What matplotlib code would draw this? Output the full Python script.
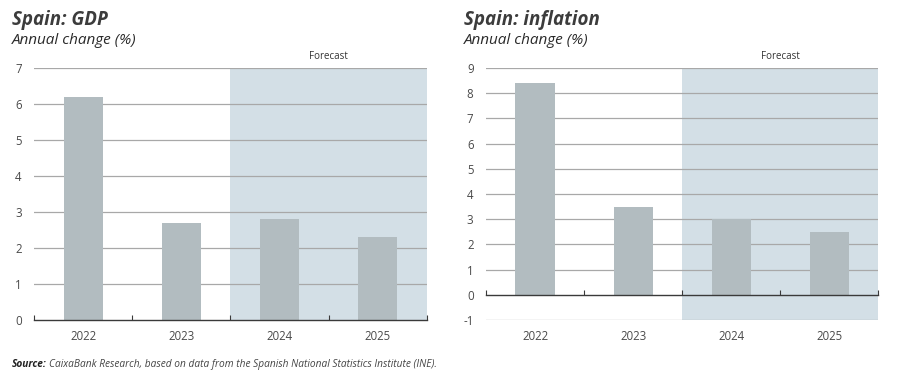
import matplotlib
matplotlib.use('Agg')
import matplotlib.pyplot as plt
import numpy as np

# --- Data ---
years = ['2022', '2023', '2024', '2025']
gdp = [6.2, 2.7, 2.8, 2.3]
inflation = [8.4, 3.5, 3.0, 2.5]
forecast_start = 1.5  # between 2023 and 2024

# --- Style ---
plt.rcParams['font.family'] = ['Open Sans', 'DejaVu Sans']
bar_color = '#b2bcc0'
shade_color = '#d3dfe6'
grid_color = '#a8a8a8'
axis_color = '#3a3a3a'
text_color = '#4a4a4a'

fig = plt.figure(figsize=(9, 3.86), dpi=100)


def draw_panel(rect, values, ylim, title, ticks):
    ax = fig.add_axes(rect)
    x = np.arange(len(years))
    ax.set_xlim(-0.5, len(years) - 0.5)
    ax.set_ylim(*ylim)

    # forecast shading
    ax.axvspan(forecast_start, len(years) - 0.5, color=shade_color, lw=0, zorder=1)
    ax.text((forecast_start + len(years) - 0.5) / 2, 1.025, 'Forecast',
            transform=ax.get_xaxis_transform(), ha='center', va='bottom',
            fontsize=7, color='#333333')

    # gridlines
    for t in ticks:
        if t != 0:
            ax.axhline(t, color=grid_color, lw=0.9, zorder=2)

    ax.bar(x, values, width=0.4, color=bar_color, zorder=3)

    # zero axis with ticks at category boundaries
    for s in ['top', 'right', 'left']:
        ax.spines[s].set_visible(False)
    ax.spines['bottom'].set_position(('data', 0))
    ax.spines['bottom'].set_color(axis_color)
    ax.spines['bottom'].set_linewidth(1.0)
    ax.spines['bottom'].set_zorder(4)
    ax.set_xticks(x)
    ax.set_xticklabels([])
    ax.set_xticks(np.arange(len(years) + 1) - 0.5, minor=True)
    ax.tick_params(axis='x', which='both', direction='in')
    ax.tick_params(axis='x', which='major', length=0)
    ax.tick_params(axis='x', which='minor', length=3.5,
                   width=0.8, color=axis_color)
    for i, yr in enumerate(years):
        ax.text(i, -0.04, yr, transform=ax.get_xaxis_transform(),
                ha='center', va='top', fontsize=8.3, color=text_color)

    ax.set_yticks(ticks)
    ax.set_yticklabels([str(t) for t in ticks])
    ax.tick_params(axis='y', length=0, pad=9, labelsize=8.3, labelcolor=text_color)

    fig.text(rect[0] - 0.025, 0.935, title, fontsize=13.5, fontweight='bold',
             style='italic', color='#3c3c3c', va='baseline')
    fig.text(rect[0] - 0.025, 0.885, 'Annual change (%)', fontsize=11,
             style='italic', color='#2a2a2a', va='baseline')
    return ax


draw_panel([0.038, 0.171, 0.436, 0.653], gdp, (0, 7),
           'Spain: GDP', list(range(0, 8)))
draw_panel([0.540, 0.171, 0.436, 0.653], inflation, (-1, 9),
           'Spain: inflation', list(range(-1, 10)))

# source line
src_bold = fig.text(0.013, 0.048, 'Source:', fontsize=7.3, fontweight='bold',
                    style='italic', color='#222222', va='baseline')
fig.canvas.draw()
bb = src_bold.get_window_extent()
x_next = (bb.x1 + 3) / fig.bbox.width
fig.text(x_next, 0.048,
         'CaixaBank Research, based on data from the Spanish National Statistics Institute (INE).',
         fontsize=7.3, style='italic', color='#444444', va='baseline')

fig.savefig('out.png', dpi=100)
